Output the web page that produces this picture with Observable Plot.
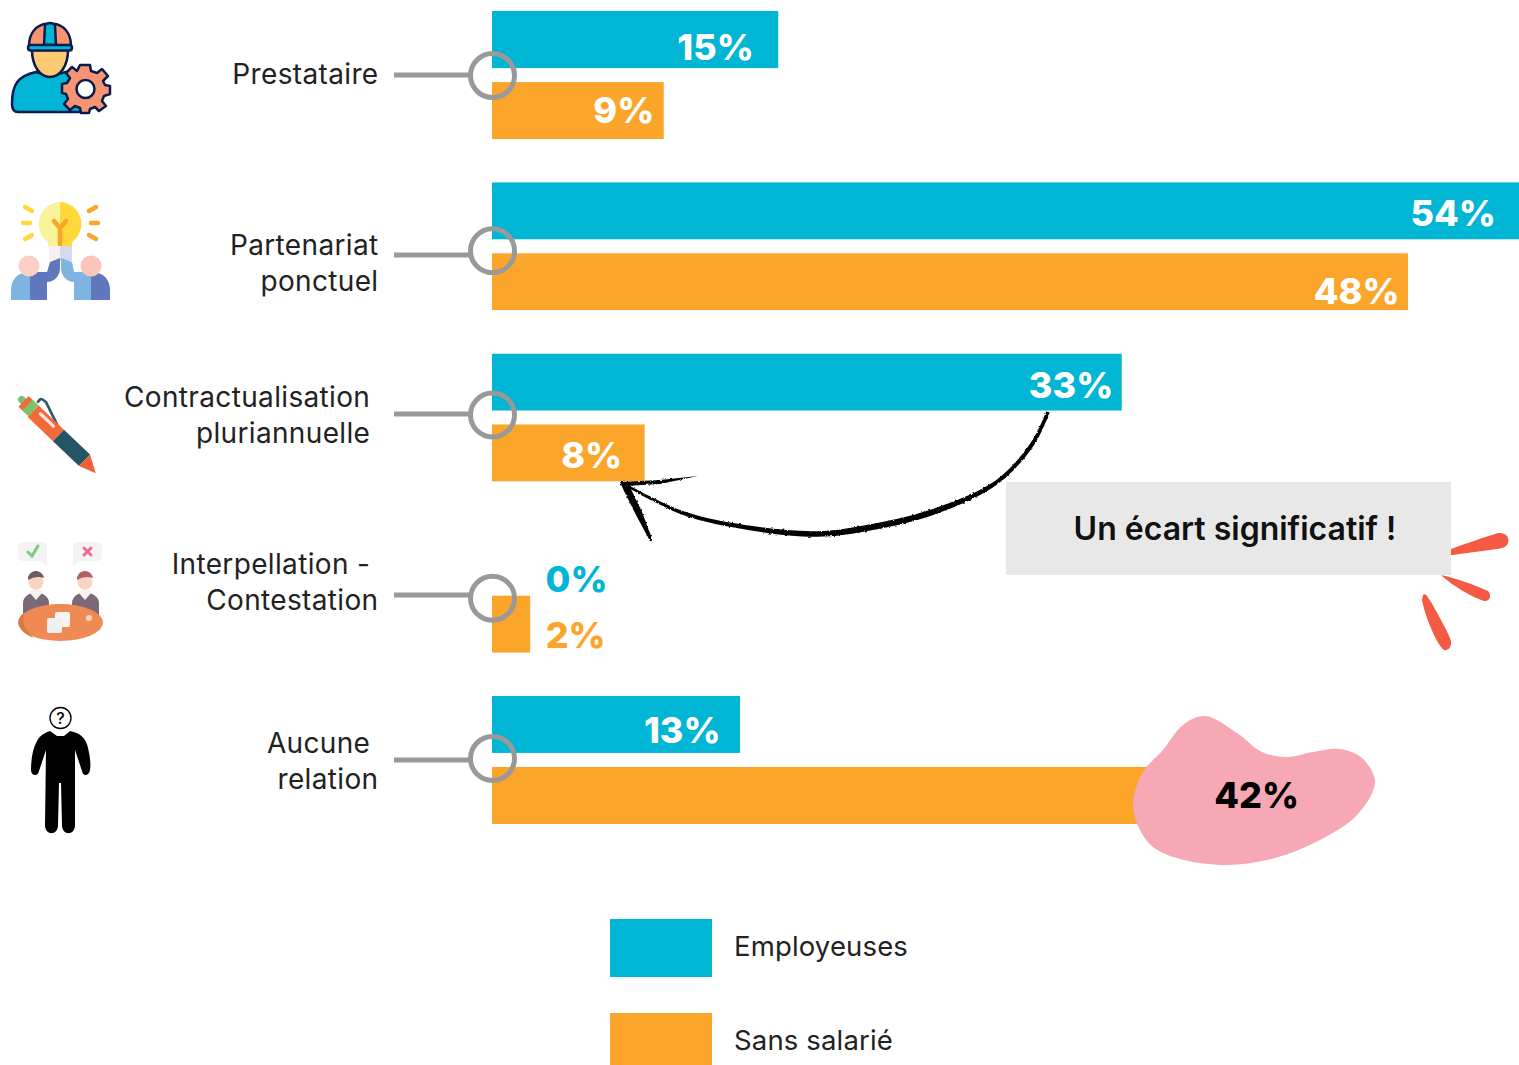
<!DOCTYPE html>
<html lang="fr">
<head>
<meta charset="utf-8">
<script src="https://cdn.jsdelivr.net/npm/d3@7"></script>
<script src="https://cdn.jsdelivr.net/npm/@observablehq/plot@0.6"></script>
<style>
html,body{margin:0;padding:0;background:#fff;overflow:hidden;width:1519px;height:1065px}
#legend{margin-top:39px;font:27.5px Inter,sans-serif;letter-spacing:.15px;color:#222}
.row{display:flex;align-items:center;margin-left:610px;height:58px;margin-bottom:36px}
.row i{display:block;width:102px;height:58px;margin-right:22px}
.row span{position:relative;top:-2px}
svg{display:block}
.catlabel text{letter-spacing:.35px}
</style>
</head>
<body>
<div id="chart"></div>
<div id="legend"></div>
<script>
const categories = ["Prestataire", "Partenariat", "Contractualisation", "Interpellation", "Aucune relation"];
const labels = ["Prestataire", "Partenariat\nponctuel", "Contractualisation\u00a0\npluriannuelle\u00a0", "Interpellation -\u00a0\nContestation", "Aucune\u00a0\nrelation"];
const series = ["Employeuses", "Sans salarié"];
const employeuses = [15, 54, 33, 0, 13];
const sansSalarie = [9, 48, 8, 2, 42];

const BLUE = "#01b5d4", ORANGE = "#fba52b", GREY = "#999999";
const colors = {"Employeuses": BLUE, "Sans salarié": ORANGE};

const rows = categories.flatMap((c, i) => [
  {category: c, serie: series[0], value: employeuses[i]},
  {category: c, serie: series[1], value: sansSalarie[i]}
]);

// offsets of labels and rings relative to each row
const labelDy = [-3, 15, -5, -9, -1];
const ringDy = [0, 4, -3, 9, -2];
const connY = [75, 255, 414, 595, 760];
const valueNudge = [[-25, 8], [-10, 0], [-27, 3], [-9, 10], [-9, 4], [-23, 3], [53, 27], [15, 12], [-20, 7], [5, 1]];

function decor() {
  const g = d3.create("svg:g");
  const smooth = d3.line().curve(d3.curveCatmullRomClosed.alpha(0.5));

  // rough edge for the hand-drawn arrow
  g.append("defs").html(`<filter id="rough" x="-5%" y="-10%" width="110%" height="120%">
    <feTurbulence type="fractalNoise" baseFrequency="0.35" numOctaves="2" seed="4"/>
    <feDisplacementMap in="SourceGraphic" scale="2.6" xChannelSelector="R" yChannelSelector="G"/>
  </filter>`);

  // connectors
  connY.forEach(y => g.append("line").attr("x1", 394).attr("x2", 470).attr("y1", y).attr("y2", y)
    .attr("stroke", GREY).attr("stroke-width", 5));

  // pink blob
  g.append("path").attr("fill", "#f7a8b5").attr("d", smooth([
    [1205,716],[1183,725],[1163,750],[1143,772],[1133,803],[1139,828],[1153,847],[1180,859],[1227,865],
    [1275,858],[1320,840],[1358,814],[1375,782],[1362,758],[1340,749],[1313,752],[1287,757],[1262,752],[1237,733]
  ]));

  // red sparks
  g.append("path").attr("fill", "#f45a44").attr("d",
    "M1445,551 C1465,544 1485,537 1498,533 C1506,532 1510,538 1508,543 C1506,548 1502,548 1497,549 L1445,556 Z" +
    "M1441,575 C1455,578 1475,585 1488,591 C1492,595 1490,601 1485,601 C1478,600 1455,588 1441,575 Z" +
    "M1423,595 C1426,592 1428,598 1431,602 C1440,618 1449,634 1451,641 C1452,648 1447,651 1444,650 C1438,646 1426,620 1422,600 Z");

  // callout
  g.append("rect").attr("x", 1006).attr("y", 482).attr("width", 445).attr("height", 93).attr("fill", "#e8e8e8");
  g.append("text").attr("x", 1235).attr("y", 528).attr("text-anchor", "middle").attr("dominant-baseline", "central")
    .attr("font-family", "Inter, sans-serif").attr("font-weight", 600).attr("font-size", 32).attr("fill", "#111")
    .text("Un écart significatif !");

  // hand-drawn arrow: a tapered ribbon along the stroke
  const spine = [[1048,412],[1033,443],[997,482],[933,512],[867,528],[817,534],[750,528],[683,513],[622,483]];
  const half = [1.8,2,2,2.9,3.1,2.8,2.3,1.9,1.2];
  const side = s => spine.map(([x, y], i) => {
    const [ax, ay] = spine[Math.max(i - 1, 0)], [bx, by] = spine[Math.min(i + 1, spine.length - 1)];
    const len = Math.hypot(bx - ax, by - ay);
    return [x + s * half[i] * (by - ay) / len, y - s * half[i] * (bx - ax) / len];
  });
  const ribbon = [...side(1), ...side(-1).reverse()];
  const arrowG = g.append("g").attr("filter", "url(#rough)");
  arrowG.append("path").attr("fill", "#000").attr("d", d3.line().curve(d3.curveCatmullRom.alpha(0.5))(side(1)) +
    d3.line().curve(d3.curveCatmullRom.alpha(0.5))(side(-1).reverse()).replace(/^M/, "L") + "Z");
  arrowG.append("path").attr("fill", "#000").attr("d", "M620,482 L660,480 L698,476 L660,484 L625,486 Z");
  arrowG.append("path").attr("fill", "#000").attr("d", "M620,482 L630,487 L642,512 L653,541 L650,541 L636,515 L624,491 Z");

  // icons
  g.append("g").html(`
  <g stroke="#0b1b4d" stroke-width="2.5" stroke-linejoin="round">
    <path d="M12,104 C12,84 18,76 36,72 L50,76 L66,72 C80,76 86,84 86,112 L18,112 C14,112 12,109 12,104Z" fill="#01b5d4"/>
    <path d="M32,50 L68,50 C68,66 60,77 50,77 C40,77 32,66 32,50Z" fill="#fdca74"/>
    <path d="M29,46 C29,32 37,26 44,24 L56,24 C63,26 71,32 71,46Z" fill="#f79471"/>
    <path d="M44,45 L45,25 Q50,21 55,25 L56,45Z" fill="#01b5d4"/>
    <rect x="28" y="45" width="44" height="5.5" rx="2.7" fill="#01b5d4"/>
    <path d="M80,65 L90,65 L91,71 L97,73 L102,69 L108,76 L103,81 L105,85 L110,86 L110,94 L104,96 L102,101 L106,106 L99,111 L95,107 L90,109 L89,113 L81,113 L80,108 L75,106 L70,110 L64,104 L68,99 L66,94 L62,93 L62,84 L67,83 L70,78 L66,73 L72,67 L77,71 Z" fill="#f79471"/>
    <circle cx="85.500" cy="89" r="9" fill="#fff"/>
  </g>
  <g>
    <path d="M60,202 A22,22 0 0 0 48,242 L48,246 L60,246Z" fill="#f9f39a"/>
    <path d="M60,202 A22,22 0 0 1 72,242 L72,246 L60,246Z" fill="#ffd93b"/>
    <path d="M60,246 V228 M54,221 L60,228 L66,221" stroke="#fba52b" stroke-width="4.500" stroke-linecap="round" fill="none"/>
    <rect x="49" y="246" width="11" height="15" fill="#f7f0f0"/><rect x="60" y="246" width="12" height="15" fill="#d6d9ec"/>
    <g stroke-width="4.500" stroke-linecap="round" fill="none" stroke="#ffd93b">
      <path d="M25,207 L32,211"/><path d="M23,223 L30,223"/><path d="M25,239 L32,235"/>
    </g>
    <g stroke-width="4.500" stroke-linecap="round" fill="none" stroke="#fba52b">
      <path d="M96,207 L89,211"/><path d="M98,223 L91,223"/><path d="M96,239 L89,235"/>
    </g>
    <path d="M30,272 C17,272 11,280 11,290 L11,300 L30,300Z" fill="#7fb4e0"/>
    <path d="M30,272 L47,272 L47,300 L30,300Z" fill="#5f78bd"/>
    <path d="M47,272 L50,262 L60,258 L60,268 C60,276 54,282 47,282Z" fill="#5f78bd"/>
    <path d="M91,272 C104,272 110,280 110,290 L110,300 L91,300Z" fill="#5f78bd"/>
    <path d="M91,272 L74,272 L74,300 L91,300Z" fill="#7fb4e0"/>
    <path d="M74,272 L72,262 L61,258 L61,268 C61,276 67,282 74,282Z" fill="#7fb4e0"/>
    <circle cx="29" cy="266" r="10.500" fill="#fbd0c4"/><circle cx="91" cy="266" r="10.500" fill="#fbc6b8"/>
  </g>
  <g transform="translate(19,397) rotate(43.700) scale(1.060)">
    <path d="M16,-9 L16,-12 Q16,-14 22,-14 L44,-6" fill="none" stroke="#2a5a70" stroke-width="2.500" stroke-linecap="round"/>
    <rect x="0" y="-3.500" width="12" height="7" rx="3.500" fill="#7fc26b"/>
    <rect x="6" y="-7" width="8" height="14" fill="#f26a3a"/>
    <rect x="11" y="-7" width="8" height="14" fill="#7fc26b"/>
    <rect x="19" y="-7" width="33" height="15" fill="#f26a3a"/>
    <rect x="24" y="-4" width="20" height="3" rx="1.500" fill="#fde4d8"/>
    <rect x="52" y="-7" width="34" height="15" fill="#265467"/>
    <path d="M86,-7 L102,2 L86,8Z" fill="#f0603a"/>
  </g>
  <g>
    <path d="M24,542 H42 Q47,542 47,547 V566 L41,561 H24 Q18,561 18,555 V547 Q18,542 24,542Z" fill="#f3f3f3"/>
    <path d="M79,542 H97 Q102,542 102,547 V555 Q102,561 96,561 H79 L73,566 V547 Q73,542 79,542Z" fill="#f3f3f3"/>
    <path d="M28,552 L32,556 L38,546" fill="none" stroke="#7cc97f" stroke-width="3" stroke-linecap="round"/>
    <path d="M84,548 L91,555 M91,548 L84,555" fill="none" stroke="#ef6c9a" stroke-width="3" stroke-linecap="round"/>
    <path d="M23,603 C23,596 30,593 36,592 C42,593 49,596 49,603 L49,620 L23,620Z" fill="#7a6a78"/>
    <path d="M72,603 C72,596 79,593 85,592 C91,593 99,596 99,603 L99,620 L72,620Z" fill="#7a6a78"/>
    <path d="M29,592 L36,600 L43,592 L36,588Z" fill="#f7f2f2"/><path d="M78,592 L85,600 L92,592 L85,588Z" fill="#f7f2f2"/>
    <circle cx="36" cy="582" r="7.500" fill="#fcd2c4"/><circle cx="85" cy="582" r="7.500" fill="#fcd2c4"/>
    <path d="M28,580 A8,8 0 0 1 44,578 Q36,575 28,580Z" fill="#6e5b68"/>
    <path d="M77,580 A8,8 0 0 1 93,578 Q85,575 77,580Z" fill="#b35f68"/>
    <ellipse cx="60.500" cy="622.500" rx="42.500" ry="18.500" fill="#f08a55"/>
    <path d="M24,613 C14,620 18,632 34,638 C24,630 22,622 24,613Z" fill="#d97a45"/>
    <circle cx="89" cy="618" r="3" fill="#fcd2c4"/>
    <rect x="55" y="612" width="15" height="15" rx="2" fill="#f7f4f2"/><rect x="47" y="618" width="15" height="15" rx="2" fill="#eef1f3"/>
  </g>
  <g>
    <circle cx="60.500" cy="718" r="10.500" fill="#fff" stroke="#000" stroke-width="1.300"/>
    <text x="60.500" y="724" text-anchor="middle" font-family="Inter, sans-serif" font-size="16" font-weight="500" fill="#000">?</text>
    <path d="M50,731 L57,736 L64,736 L70,731 C80,733 86,738 88,748 C90,756 91,764 90,770 C89,776 83,777 82,771 L75,750 L75,825 C75,836 62,836 62,825 L61,783 L59,783 L58,825 C58,836 45,836 45,825 L46,750 L39,771 C38,777 31,776 31,770 C31,758 33,748 37,741 C40,735 45,733 50,731Z" fill="#000"/>
  </g>`);
  return g.node();
}

const valueColor = (i) => i === 6 ? BLUE : i === 7 ? ORANGE : i === 9 ? "#000" : "#fff";

const plot = Plot.plot({
  width: 1519, height: 880,
  marginLeft: 492, marginRight: 0, marginTop: 11, marginBottom: 56,
  x: {domain: [0, 53.82], axis: null},
  y: {domain: series, axis: null, paddingInner: 14 / 128 * 2 * 0.9, paddingOuter: 0, round: false},
  fy: {domain: categories, axis: null, paddingInner: 43 / 171, round: false},
  style: {overflow: "hidden"},
  marks: [
    Plot.barX(rows, {x: "value", y: "serie", fy: "category", fill: d => colors[d.serie], clip: true}),
    ...categories.map((c, i) => Plot.dot([c], {
      x: () => 0, fy: d => d, r: 22, stroke: GREY, strokeWidth: 5, fill: "none", dy: ringDy[i]
    })),
    ...categories.map((c, i) => Plot.text([labels[i]], {
      fy: () => c, frameAnchor: "left", dx: -114, textAnchor: "end", lineHeight: 36 / 28, dy: labelDy[i],
      fontFamily: "Inter, sans-serif", fontSize: 28, fill: "#222", text: d => d, className: "catlabel"
    })),
    ...rows.map((r, i) => Plot.text([r], {
      x: "value", y: "serie", fy: "category", text: d => d.value + "%",
      dx: valueNudge[i][0], dy: valueNudge[i][1],
      textAnchor: i === 6 || i === 7 ? "start" : "end",
      fontFamily: "Inter, sans-serif", fontWeight: 800, fontSize: 36, fill: valueColor(i)
    }))
  ]
});
// annotations sit between the bars and the rings, once, outside the facets
plot.insertBefore(decor(), plot.querySelector('g[aria-label="dot"]'));
document.getElementById("chart").appendChild(plot);

const legend = d3.select("#legend");
series.forEach(s => {
  const r = legend.append("div").attr("class", "row");
  r.append("i").style("background", colors[s]);
  r.append("span").text(s);
});
</script>
</body>
</html>
